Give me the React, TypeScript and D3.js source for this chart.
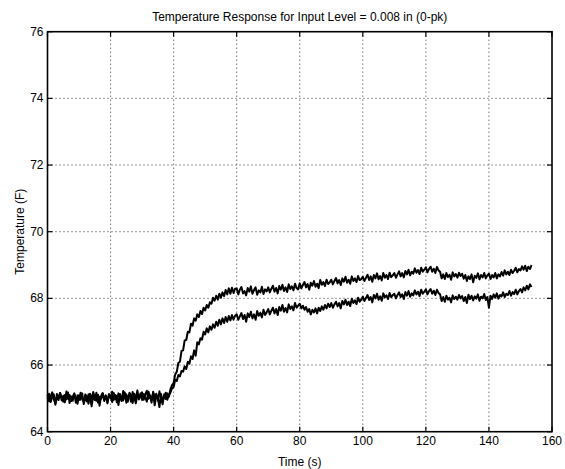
import React from "react";
import * as d3 from "d3";

const W = 565;
const H = 469;
const M = { left: 47.5, right: 13, top: 31.7, bottom: 37.3 };

const xTicks = [0, 20, 40, 60, 80, 100, 120, 140, 160];
const yTicks = [64, 66, 68, 70, 72, 74, 76];
const title = "Temperature Response for Input Level = 0.008 in (0-pk)";
const xLabel = "Time (s)";
const yLabel = "Temperature (F)";
const sampleStep = 0.5; // seconds between samples, starting at t = 0

// upper trace (faster response), every 0.5 s
const upperTrace = [
  65.11, 64.91, 65.06, 65.18, 64.97, 64.85, 65.13, 65.01, 65.16, 64.94, 65.08, 64.88, 65.21, 64.99, 65.10, 64.92, 65.05, 65.15, 64.87, 65.09,
  64.95, 65.17, 65.00, 64.90, 65.12, 65.04, 64.84, 65.14, 64.96, 65.19, 65.02, 64.93, 65.11, 64.78, 65.07, 65.16, 64.98, 65.09, 64.89, 65.13,
  65.01, 65.20, 64.95, 65.10, 64.88, 65.15, 65.03, 64.92, 65.22, 65.00, 65.12, 64.90, 65.17, 65.06, 64.86, 65.14, 64.99, 65.24, 64.97, 65.08,
  65.18, 64.96, 65.11, 65.23, 64.99, 65.09, 64.87, 65.20, 65.04, 65.14, 64.93, 65.21, 65.02, 64.82, 65.12, 64.98, 65.15, 65.05, 65.28, 65.40,
  65.46, 65.72, 65.80, 66.06, 66.10, 66.42, 66.44, 66.74, 66.75, 67.00, 66.98, 67.24, 67.18, 67.40, 67.33, 67.52, 67.44, 67.62, 67.53, 67.72,
  67.64, 67.80, 67.72, 67.88, 67.84, 68.02, 67.93, 68.08, 67.96, 68.14, 68.02, 68.18, 68.07, 68.25, 68.12, 68.30, 68.14, 68.32, 68.16, 68.29,
  68.30, 68.12, 68.26, 68.34, 68.15, 68.22, 68.09, 68.31, 68.20, 68.36, 68.14, 68.25, 68.33, 68.11, 68.24, 68.18, 68.35, 68.13, 68.27, 68.21,
  68.33, 68.18, 68.29, 68.38, 68.20, 68.31, 68.15, 68.37, 68.26, 68.41, 68.22, 68.33, 68.19, 68.42, 68.28, 68.36, 68.24, 68.44, 68.31, 68.27,
  68.45, 68.30, 68.40, 68.49, 68.33, 68.43, 68.26, 68.47, 68.38, 68.52, 68.35, 68.44, 68.31, 68.55, 68.41, 68.49, 68.37, 68.56, 68.43, 68.48,
  68.56, 68.42, 68.52, 68.61, 68.45, 68.55, 68.40, 68.60, 68.50, 68.65, 68.47, 68.56, 68.44, 68.66, 68.52, 68.60, 68.49, 68.67, 68.55, 68.58,
  68.65, 68.52, 68.62, 68.71, 68.55, 68.66, 68.50, 68.70, 68.60, 68.75, 68.57, 68.67, 68.54, 68.76, 68.62, 68.70, 68.58, 68.77, 68.64, 68.69,
  68.76, 68.62, 68.72, 68.81, 68.66, 68.76, 68.63, 68.82, 68.72, 68.86, 68.69, 68.80, 68.74, 68.90, 68.77, 68.85, 68.73, 68.92, 68.80, 68.86,
  68.93, 68.78, 68.88, 68.95, 68.80, 68.89, 68.76, 68.94, 68.84, 68.80, 68.60, 68.72, 68.58, 68.76, 68.64, 68.71, 68.56, 68.78, 68.66, 68.73,
  68.62, 68.77, 68.67, 68.74, 68.59, 68.70, 68.52, 68.66, 68.58, 68.72, 68.48, 68.68, 68.61, 68.75, 68.57, 68.70, 68.63, 68.76, 68.60, 68.69,
  68.74, 68.58, 68.70, 68.63, 68.76, 68.60, 68.72, 68.66, 68.79, 68.68, 68.84, 68.72, 68.80, 68.70, 68.86, 68.76, 68.83, 68.92, 68.78, 68.88,
  68.84, 68.96, 68.86, 68.98, 68.82, 68.95, 68.88, 69.00,
];

// lower trace (slower response), every 0.5 s
const lowerTrace = [
  64.98, 65.14, 64.89, 65.04, 65.12, 64.81, 65.07, 64.95, 65.16, 65.01, 64.90, 65.10, 64.97, 65.18, 64.86, 65.06, 64.93, 65.13, 65.00, 64.84,
  65.09, 64.96, 65.15, 64.83, 65.03, 64.91, 65.12, 65.00, 64.76, 65.10, 64.95, 65.17, 64.88, 65.05, 64.99, 65.14, 64.92, 65.07, 64.85, 65.11,
  65.04, 64.89, 65.16, 64.98, 65.08, 64.80, 65.13, 65.01, 64.94, 65.18, 64.87, 65.06, 65.12, 64.90, 65.19, 65.03, 64.85, 65.10, 65.00, 65.15,
  64.95, 65.13, 65.03, 64.90, 65.20, 65.07, 64.94, 65.16, 64.79, 65.10, 65.01, 64.74, 65.13, 64.92, 65.06, 65.17, 64.96, 65.10, 65.18, 65.30,
  65.34, 65.56, 65.52, 65.70, 65.66, 65.82, 65.80, 65.96, 65.88, 66.10, 66.04, 66.26, 66.18, 66.44, 66.28, 66.68, 66.62, 66.80, 66.76, 67.00,
  66.92, 67.10, 66.98, 67.16, 67.06, 67.22, 67.12, 67.30, 67.18, 67.36, 67.22, 67.40, 67.26, 67.44, 67.30, 67.47, 67.34, 67.50, 67.36, 67.48,
  67.52, 67.36, 67.46, 67.56, 67.38, 67.50, 67.30, 67.55, 67.44, 67.60, 67.40, 67.52, 67.36, 67.62, 67.48, 67.57, 67.43, 67.66, 67.50, 67.58,
  67.68, 67.52, 67.63, 67.72, 67.55, 67.68, 67.50, 67.74, 67.63, 67.80, 67.60, 67.71, 67.58, 67.82, 67.68, 67.76, 67.64, 67.86, 67.72, 67.78,
  67.84, 67.70, 67.78, 67.66, 67.74, 67.60, 67.68, 67.52, 67.66, 67.58, 67.70, 67.55, 67.72, 67.62, 67.76, 67.66, 67.80, 67.70, 67.84, 67.74,
  67.86, 67.72, 67.82, 67.90, 67.76, 67.86, 67.70, 67.92, 67.82, 67.96, 67.80, 67.90, 67.77, 67.99, 67.86, 67.94, 67.83, 68.02, 67.90, 67.96,
  68.05, 67.92, 68.01, 68.10, 67.95, 68.04, 67.88, 68.10, 68.00, 68.14, 67.96, 68.06, 67.93, 68.15, 68.03, 68.09, 67.98, 68.16, 68.04, 68.10,
  68.14, 68.00, 68.10, 68.18, 68.04, 68.12, 67.98, 68.19, 68.08, 68.22, 68.05, 68.15, 68.09, 68.24, 68.12, 68.20, 68.07, 68.26, 68.14, 68.20,
  68.27, 68.12, 68.22, 68.28, 68.14, 68.23, 68.10, 68.26, 68.16, 68.12, 67.92, 68.04, 67.90, 68.08, 67.96, 68.02, 67.88, 68.09, 67.98, 68.05,
  67.96, 68.10, 68.00, 68.07, 67.92, 68.04, 67.86, 68.11, 67.98, 68.08, 67.94, 68.06, 67.99, 68.12, 67.93, 68.05, 68.00, 68.13, 67.95, 68.04,
  67.72, 68.08, 67.98, 68.12, 68.02, 68.15, 67.99, 68.10, 68.06, 68.18, 68.04, 68.14, 68.10, 68.22, 68.08, 68.19, 68.13, 68.26, 68.12, 68.22,
  68.28, 68.18, 68.33, 68.24, 68.38, 68.27, 68.42, 68.34,
];

const FONT = "'Liberation Sans', Arial, Helvetica, sans-serif";

export default function App() {
  const x = d3.scaleLinear().domain([0, 160]).range([M.left, W - M.right]);
  const y = d3.scaleLinear().domain([64, 76]).range([H - M.bottom, M.top]);
  const line = d3
    .line<number>()
    .x((_, i) => x(i * sampleStep))
    .y((d) => y(d));

  const x0 = x(0), x1 = x(160), y0 = y(64), y1 = y(76);
  const tick = 5;

  return (
    <svg
      width={W}
      height={H}
      style={{ position: "absolute", left: 0, top: 0, background: "#fff" }}
      fontFamily={FONT}
    >
      <rect x={0} y={0} width={W} height={H} fill="#fff" />
      {xTicks.slice(1, -1).map((t) => (
        <line key={"gx" + t} x1={x(t)} x2={x(t)} y1={y1} y2={y0}
          stroke="#333" strokeWidth={1} strokeDasharray="1,3" />
      ))}
      {yTicks.slice(1, -1).map((t) => (
        <line key={"gy" + t} x1={x0} x2={x1} y1={y(t)} y2={y(t)}
          stroke="#333" strokeWidth={1} strokeDasharray="1,3" />
      ))}
      <path d={line(upperTrace) || ""} fill="none" stroke="#000" strokeWidth={2} strokeLinejoin="round" />
      <path d={line(lowerTrace) || ""} fill="none" stroke="#000" strokeWidth={2} strokeLinejoin="round" />
      <rect x={x0} y={y1} width={x1 - x0} height={y0 - y1} fill="none" stroke="#000" strokeWidth={1.6} />
      {xTicks.map((t) => (
        <g key={"tx" + t}>
          <line x1={x(t)} x2={x(t)} y1={y0} y2={y0 - tick} stroke="#000" strokeWidth={1.2} />
          <line x1={x(t)} x2={x(t)} y1={y1} y2={y1 + tick} stroke="#000" strokeWidth={1.2} />
          <text x={x(t)} y={y0 + 13} textAnchor="middle" fontSize={12} fill="#000">{t}</text>
        </g>
      ))}
      {yTicks.map((t) => (
        <g key={"ty" + t}>
          <line x1={x0} x2={x0 + tick} y1={y(t)} y2={y(t)} stroke="#000" strokeWidth={1.2} />
          <line x1={x1} x2={x1 - tick} y1={y(t)} y2={y(t)} stroke="#000" strokeWidth={1.2} />
          <text x={x0 - 4} y={y(t) + 4} textAnchor="end" fontSize={12} fill="#000">{t}</text>
        </g>
      ))}
      <text x={(x0 + x1) / 2} y={21} textAnchor="middle" fontSize={12} fill="#000">{title}</text>
      <text x={(x0 + x1) / 2} y={466} textAnchor="middle" fontSize={12} fill="#000">{xLabel}</text>
      <text transform={`translate(24,${(y0 + y1) / 2}) rotate(-90)`} textAnchor="middle" fontSize={12} fill="#000">{yLabel}</text>
    </svg>
  );
}
